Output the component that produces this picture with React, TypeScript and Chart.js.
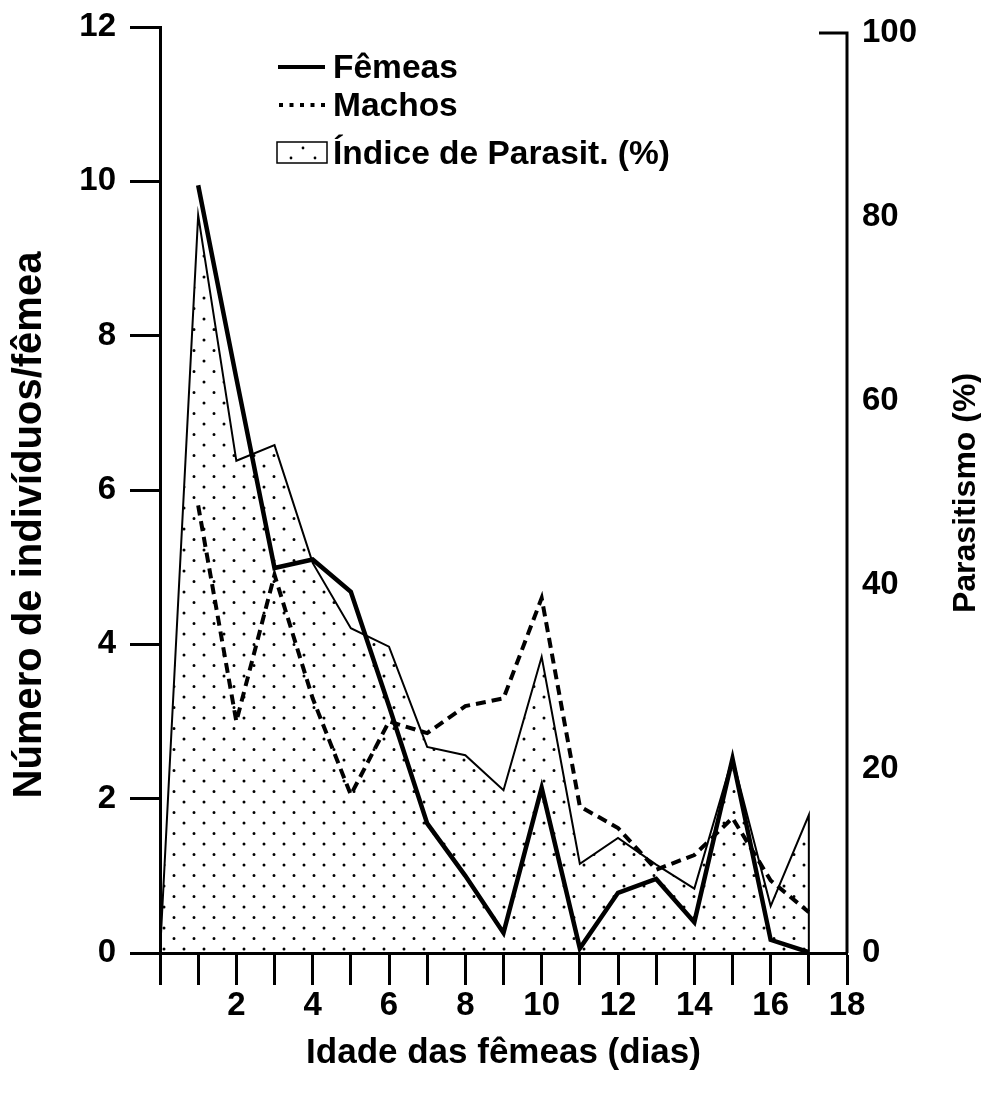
import React, { useEffect, useRef } from 'react';
import { Chart, registerables } from 'chart.js';

Chart.register(...registerables);

// Age of the females (days)
const days = [1, 2, 3, 4, 5, 6, 7, 8, 9, 10, 11, 12, 13, 14, 15, 16, 17];
// Offspring per female (left axis)
const femeas = [9.95, 7.45, 4.99, 5.1, 4.68, 3.2, 1.68, 1.0, 0.26, 2.14, 0.06, 0.78, 0.96, 0.4, 2.52, 0.17, 0.01];
const machos = [5.8, 3.0, 4.9, 3.3, 2.05, 3.0, 2.85, 3.2, 3.3, 4.6, 1.9, 1.62, 1.08, 1.27, 1.75, 0.94, 0.53];
// Parasitism index (%) on the right axis; the series opens at day 0 and closes back to 0 on day 17
const parasitDays = [0, 1, 2, 3, 4, 5, 6, 7, 8, 9, 10, 11, 12, 13, 14, 15, 16, 17, 17];
const parasitismo = [0, 80.2, 53.5, 55.2, 42.4, 35.3, 33.3, 22.4, 21.5, 17.7, 32.2, 9.7, 12.5, 9.6, 7.0, 21.2, 5.1, 15.0, 0];

const xTicks = [0, 1, 2, 3, 4, 5, 6, 7, 8, 9, 10, 11, 12, 13, 14, 15, 16, 17, 18];
const leftTicks = [0, 2, 4, 6, 8, 10, 12];
const rightTicks = [0, 20, 40, 60, 80, 100];
const legendLabels = ['Fêmeas', 'Machos', 'Índice de Parasit. (%)'];
const leftTitle = 'Número de indivíduos/fêmea';
const rightTitle = 'Parasitismo (%)';
const bottomTitle = 'Idade das fêmeas (dias)';

const FONT = "'Liberation Sans', Arial, Helvetica, sans-serif";
const INK = '#000';

function makeDotPattern(): CanvasPattern | string {
  const c = document.createElement('canvas');
  c.width = 20;
  c.height = 21;
  const g = c.getContext('2d');
  if (!g) return 'rgba(0,0,0,0.1)';
  g.fillStyle = INK;
  g.beginPath();
  g.arc(4, 4, 1.5, 0, Math.PI * 2);
  g.closePath();
  g.moveTo(15.5, 14.5);
  g.arc(14, 14.5, 1.5, 0, Math.PI * 2);
  g.closePath();
  g.fill();
  return g.createPattern(c, 'repeat') || 'rgba(0,0,0,0.1)';
}

function dot(ctx: CanvasRenderingContext2D, x: number, y: number, r: number) {
  ctx.beginPath();
  ctx.arc(x, y, r, 0, Math.PI * 2);
  ctx.fill();
}

const overlayPlugin = {
  id: 'overlay',
  afterDraw(chart: any) {
    const { ctx, chartArea, scales } = chart;
    const y2 = scales.y2;
    const xr = chartArea.right;
    const top = y2.getPixelForValue(100);
    const bottom = y2.getPixelForValue(0);

    ctx.save();
    // right-hand axis line with its top cap
    ctx.strokeStyle = INK;
    ctx.lineWidth = 3;
    ctx.beginPath();
    ctx.moveTo(xr - 28, top);
    ctx.lineTo(xr, top);
    ctx.lineTo(xr, bottom);
    ctx.stroke();

    ctx.fillStyle = INK;
    ctx.textAlign = 'center';
    ctx.textBaseline = 'middle';

    // right-hand axis title, reading upwards
    ctx.save();
    ctx.translate(966, (top + bottom) / 2);
    ctx.rotate(-Math.PI / 2);
    ctx.font = `bold 32px ${FONT}`;
    ctx.fillText(rightTitle, 0, 0);
    ctx.restore();

    // left-hand axis title, reading upwards
    ctx.save();
    ctx.translate(30, 525);
    ctx.rotate(-Math.PI / 2);
    ctx.font = `bold 40px ${FONT}`;
    ctx.fillText(leftTitle, 0, 0);
    ctx.restore();

    // legend
    const lx = chartArea.left + 118;
    const tx = chartArea.left + 173;
    const rows = [chartArea.top + 40, chartArea.top + 78, chartArea.top + 125];
    ctx.font = `bold 33.5px ${FONT}`;
    ctx.textAlign = 'left';

    // solid sample
    ctx.lineWidth = 4;
    ctx.beginPath();
    ctx.moveTo(lx, rows[0]);
    ctx.lineTo(lx + 47, rows[0]);
    ctx.stroke();
    ctx.fillText(legendLabels[0], tx, rows[0] + 2);

    // dotted sample
    for (let i = 0; i < 5; i++) {
      ctx.fillRect(lx + 1 + i * 10.5, rows[1] - 2, 4, 4);
    }
    ctx.fillText(legendLabels[1], tx, rows[1] + 2);

    // dotted box sample
    ctx.lineWidth = 1.5;
    ctx.strokeRect(lx - 1, rows[2] - 10, 50, 21);
    dot(ctx, lx + 13, rows[2] + 6, 1.4);
    dot(ctx, lx + 25, rows[2] - 4, 1.4);
    dot(ctx, lx + 37, rows[2] + 6, 1.4);
    ctx.fillText(legendLabels[2], tx, rows[2] + 3);
    ctx.restore();
  },
};

export default function App() {
  const canvasRef = useRef<HTMLCanvasElement | null>(null);

  useEffect(() => {
    const canvas = canvasRef.current;
    if (!canvas) return;
    const tickFont = { family: FONT, size: 33, weight: 'bold' as const };
    const titleFont = { family: FONT, size: 35, weight: 'bold' as const };
    const rightMax = (100 * 926) / 920;
    const noPad = (s: any) => {
      s.paddingTop = 0;
      s.paddingBottom = 0;
      s.paddingLeft = 0;
      s.paddingRight = 0;
    };

    const chart = new Chart(canvas, {
      type: 'line',
      data: {
        datasets: [
          {
            label: legendLabels[1],
            data: days.map((d, i) => ({ x: d, y: machos[i] })),
            yAxisID: 'y',
            borderColor: INK,
            borderWidth: 4,
            borderDash: [10, 6],
            pointRadius: 0,
            fill: false,
            tension: 0,
            order: 1,
          },
          {
            label: legendLabels[0],
            data: days.map((d, i) => ({ x: d, y: femeas[i] })),
            yAxisID: 'y',
            borderColor: INK,
            borderWidth: 4.5,
            pointRadius: 0,
            fill: false,
            tension: 0,
            borderJoinStyle: 'miter',
            order: 2,
          },
          {
            label: legendLabels[2],
            data: parasitDays.map((d, i) => ({ x: d, y: parasitismo[i] })),
            yAxisID: 'y2',
            borderColor: INK,
            borderWidth: 2,
            backgroundColor: makeDotPattern() as any,
            pointRadius: 0,
            fill: 'origin',
            tension: 0,
            borderJoinStyle: 'miter',
            order: 3,
          },
        ],
      },
      options: {
        responsive: false,
        animation: false,
        devicePixelRatio: 1,
        layout: { padding: { top: 27, left: 0, right: 0, bottom: 0 } },
        plugins: {
          legend: { display: false },
          tooltip: { enabled: false },
        },
        scales: {
          x: {
            type: 'linear',
            min: 0,
            max: 18,
            afterBuildTicks: (s: any) => {
              s.ticks = xTicks.map((v) => ({ value: v }));
            },
            afterFit: (s: any) => {
              s.height = 141;
              noPad(s);
            },
            ticks: {
              autoSkip: false,
              maxRotation: 0,
              color: INK,
              font: tickFont,
              padding: 1,
              callback: (v: any) => (v >= 2 && v % 2 === 0 ? String(v) : ''),
            },
            grid: { drawOnChartArea: false, drawTicks: true, tickLength: 32, tickWidth: 3, tickColor: INK, color: INK },
            border: { display: true, width: 3, color: INK },
            title: { display: true, text: bottomTitle, color: INK, font: titleFont, padding: { top: 0, bottom: 20 } },
          },
          y: {
            type: 'linear',
            position: 'left',
            min: 0,
            max: 12,
            afterBuildTicks: (s: any) => {
              s.ticks = leftTicks.map((v) => ({ value: v }));
            },
            afterFit: (s: any) => {
              s.width = 160;
              noPad(s);
            },
            ticks: { color: INK, font: tickFont, padding: 14 },
            grid: { drawOnChartArea: false, drawTicks: true, tickLength: 30, tickWidth: 3, tickColor: INK, color: INK },
            border: { display: true, width: 3, color: INK },
          },
          y2: {
            type: 'linear',
            position: 'right',
            min: 0,
            max: rightMax,
            afterBuildTicks: (s: any) => {
              s.ticks = rightTicks.map((v) => ({ value: v }));
            },
            afterFit: (s: any) => {
              s.width = 134;
              noPad(s);
            },
            ticks: { color: INK, font: tickFont, padding: 15 },
            grid: { drawOnChartArea: false, drawTicks: false },
            border: { display: false },
          },
        },
      },
      plugins: [overlayPlugin],
    });

    return () => chart.destroy();
  }, []);

  return (
    <div style={{ position: 'fixed', left: 0, top: 0, width: 981, height: 1094, background: '#fff' }}>
      <canvas ref={canvasRef} width={981} height={1094} style={{ display: 'block' }} />
    </div>
  );
}
